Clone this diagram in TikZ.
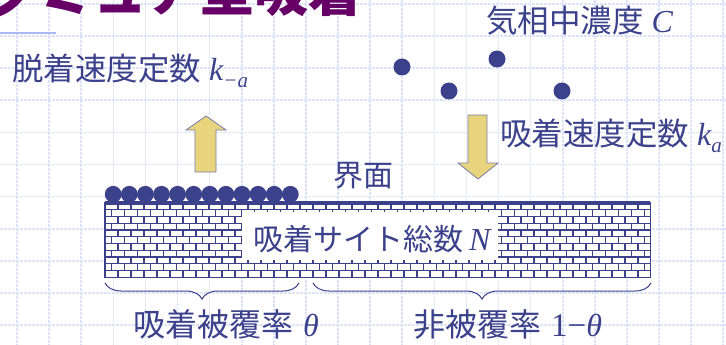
\documentclass[tikz,border=0pt]{standalone}
\usepackage{fontspec}
\setmainfont{Liberation Serif}
\newfontfamily\jp{Noto Sans CJK JP}
\usetikzlibrary{decorations.pathreplacing}

\definecolor{ink}{RGB}{60,65,140}
\definecolor{titlecol}{RGB}{102,0,102}
\definecolor{gridcol}{RGB}{222,228,248}
\definecolor{arrowfill}{RGB}{233,212,126}
\definecolor{arrowline}{RGB}{120,125,170}
\definecolor{rulecol}{RGB}{168,184,240}

% Latin italic symbol and its lowered subscript
\newcommand\mylat[1]{{\rmfamily\itshape\fontsize{32}{32}\selectfont #1}}
\newcommand\mysub[1]{\raisebox{-7pt}{\rmfamily\itshape\fontsize{21}{21}\selectfont #1}}

\begin{document}
\begin{tikzpicture}[x=1pt,y=-1pt,
  lbl/.style={inner sep=0pt, text=ink, anchor=base west,
              font=\fontsize{30}{30}\selectfont\jp},
  big/.style={font=\fontsize{31.5}{31.5}\selectfont\jp},
  gridline/.style={draw=gridcol, line width=1.6pt, dash pattern=on 3pt off 1pt},
  mortar/.style={draw=ink, line width=1.05pt},
  blockarrow/.style={fill=arrowfill, draw=arrowline, line width=0.8pt, line join=miter},
  molecule/.style={fill=ink, draw=none},
  bracestyle/.style={draw=ink, line width=1pt, decorate,
                     decoration={brace, mirror, amplitude=16pt}}]

\useasboundingbox (0,0) rectangle (726,345);
\clip (0,0) rectangle (726,345);

% background grid
\foreach \k in {0,...,22} \draw[gridline] (17+32.1*\k,0) -- (17+32.1*\k,345);
\foreach \k in {0,...,10} \draw[gridline] (0,4+32.1*\k) -- (726,4+32.1*\k);

% title (runs off the top edge) and its short rule
\node[inner sep=0pt, anchor=base east, text=titlecol,
      font=\fontsize{54}{54}\selectfont\jp\bfseries] (title) at (363,12) {ラングミュア型吸着};
\coordinate (ruleA) at (0,33.5);
\coordinate (ruleB) at (56,33.5);
\draw[rulecol, line width=2pt] (ruleA) -- (ruleB);

% labels
\node[lbl, big] (desorb) at (12,81) {脱着速度定数\hspace{8pt}\mylat{k}\mysub{−a}};
\node[lbl, big] (gas) at (486,33) {気相中濃度\hspace{8pt}\mylat{C}};
\node[lbl, big] (adsorb) at (500,145) {吸着速度定数\hspace{8pt}\mylat{k}\mysub{a}};
\node[lbl] (iface) at (333,186) {界面};

% gas-phase molecules
\foreach \p/\n in {{(402,67)}/g1,{(449,91)}/g2,{(497,59)}/g3,{(562,91)}/g4}
  \fill[molecule] \p circle (8.5) coordinate (\n);

% block arrows: desorption (up) and adsorption (down)
\draw[blockarrow] (195,172) -- (195,130) -- (186,130) -- (206,116)
  -- (226,130) -- (216,130) -- (216,172) -- cycle;
\draw[blockarrow] (468,115) -- (468,163) -- (458,163) -- (478,179)
  -- (498,163) -- (487,163) -- (487,115) -- cycle;

% adsorbed molecules sitting on the surface
\foreach \j in {0,...,11}
  \fill[molecule] (113.2+16.1*\j,194.3) circle (8.4);

% solid slab with brick texture
\node[fill=white, inner sep=0pt, minimum width=545pt, minimum height=75pt,
      anchor=north west] (slab) at (105,202) {};
\begin{scope}
  \clip (slab.south west) rectangle (slab.north east);
  \foreach \k in {0,...,11} {
    \pgfmathsetmacro\rowy{203+\k*6.75}
    \pgfmathsetmacro\off{mod(\k,2)*6.5}
    \draw[mortar] (105,\rowy) -- (650,\rowy);
    \foreach \j in {-1,...,42}
      \draw[mortar] (105+\off+\j*13,\rowy) -- ++(0,6.75);
  }
\end{scope}
\draw[ink, line width=1.1pt] (slab.north west) -- (slab.south west)
  -- (slab.south east) -- (slab.north east);
\draw[ink, line width=3.2pt] ([yshift=-1pt]slab.north west) -- ([yshift=-1pt]slab.north east);

% label panel inside the slab
\node[fill=white, inner sep=0pt, minimum width=256pt, minimum height=48pt]
  (sitesbox) at (370,236) {};
\node[lbl] (sites) at (253,250) {吸着サイト総数\hspace{6pt}\mylat{N}};

% coverage braces
\coordinate (b1l) at (105,283);
\coordinate (b1r) at (299,283);
\coordinate (b2l) at (313,283);
\coordinate (b2r) at (651,283);
\draw[bracestyle] (b1l) -- (b1r);
\draw[bracestyle] (b2l) -- (b2r);
\node[lbl, font=\fontsize{32}{32}\selectfont\jp] (theta) at (133,336)
  {吸着被覆率\hspace{10pt}\mylat{θ}};
\node[lbl, font=\fontsize{32}{32}\selectfont\jp] (rest) at (413,336)
  {非被覆率\hspace{10pt}{\rmfamily\fontsize{33}{33}\selectfont 1−}\mylat{θ}};

\end{tikzpicture}
\end{document}
